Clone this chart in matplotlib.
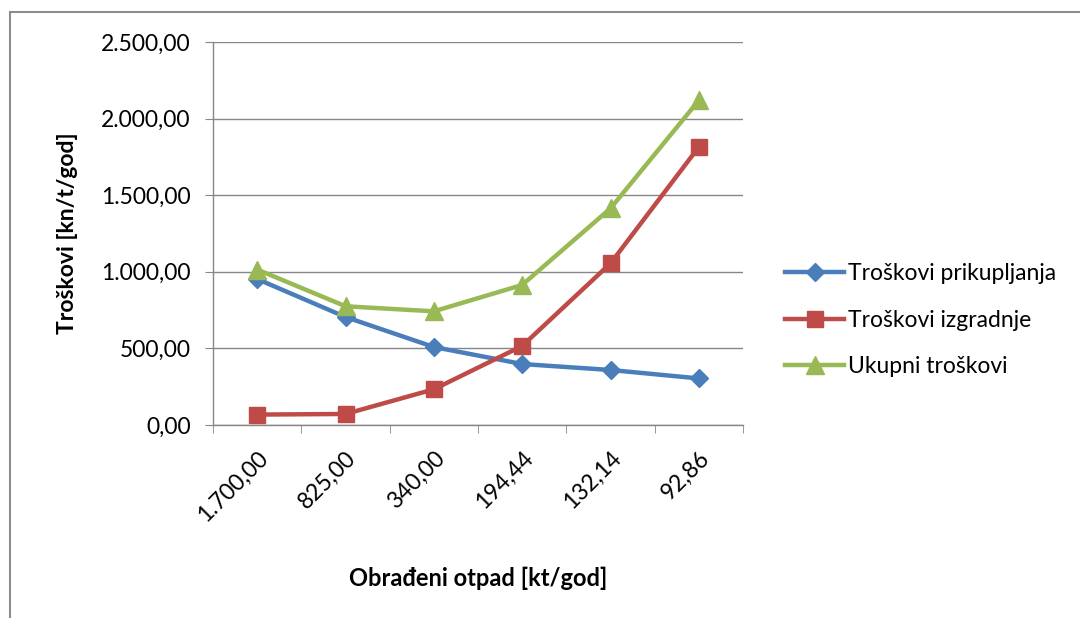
import numpy as np
import matplotlib
matplotlib.use("Agg")
import matplotlib.pyplot as plt
from matplotlib.patches import Rectangle
from matplotlib.ticker import FuncFormatter, FixedLocator

plt.rcParams['font.family'] = ['Lato', 'DejaVu Sans']

# data
categories = ['1.700,00', '825,00', '340,00', '194,44', '132,14', '92,86']
prikupljanja = [953, 705, 509, 398, 359, 304]
izgradnje = [68, 72, 233, 516, 1055, 1815]
ukupni = [1015, 775, 742, 914, 1414, 2119]

blue = '#4A7EBB'
red = '#BE4B48'
green = '#98B954'
grid_col = '#868686'

fig = plt.figure(figsize=(10.8, 6.18), dpi=100)
ax = fig.add_axes([213/1080, 1 - 425/618, (743-213)/1080, (425-42)/618])

x = np.arange(len(categories))
ax.plot(x, prikupljanja, color=blue, lw=3.2, marker='D', ms=9, label='Troškovi prikupljanja')
ax.plot(x, izgradnje, color=red, lw=3.2, marker='s', ms=12, label='Troškovi izgradnje')
ax.plot(x, ukupni, color=green, lw=3.2, marker='^', ms=13, label='Ukupni troškovi')

ax.set_xlim(-0.5, len(categories) - 0.5)
ax.set_ylim(0, 2500)
ax.set_yticks(np.arange(0, 2501, 500))
ax.yaxis.set_major_formatter(FuncFormatter(
    lambda v, p: '{:,.2f}'.format(v).replace(',', 'X').replace('.', ',').replace('X', '.')))
ax.grid(axis='y', color=grid_col, lw=1)
ax.set_axisbelow(True)

ax.set_xticks(x)
ax.set_xticklabels(categories, rotation=45, ha='right', rotation_mode='anchor')
ax.xaxis.set_minor_locator(FixedLocator(np.arange(-0.5, len(categories), 1)))
ax.tick_params(axis='x', which='major', length=0, pad=16, labelsize=16.5)
ax.tick_params(axis='x', which='minor', length=6, color=grid_col, direction='out')
ax.tick_params(axis='y', length=6, color=grid_col, labelsize=16.5, pad=10)

for s in ['top', 'right']:
    ax.spines[s].set_visible(False)
for s in ['left', 'bottom']:
    ax.spines[s].set_color(grid_col)
    ax.spines[s].set_linewidth(1)

ax.set_ylabel('Troškovi [kn/t/god]', fontsize=16.5, fontweight='bold')
ax.yaxis.set_label_coords(-0.255, 0.5)
fig.text(478/1080, 1 - 578/618, 'Obrađeni otpad [kt/god]', fontsize=17,
         fontweight='bold', ha='center', va='center')

leg = ax.legend(loc='center left', bbox_to_anchor=(1.04, 0.274), frameon=False,
                fontsize=16.5, handlelength=2.6, handletextpad=0.15, labelspacing=1.1)

# chart area border
fig.patches.append(Rectangle((10/1080, -0.1), 1.2, 1 - 12/618 + 0.1,
                             transform=fig.transFigure, fill=False,
                             edgecolor='#8c8c8c', lw=1.5))

fig.savefig('out.png', dpi=100)
